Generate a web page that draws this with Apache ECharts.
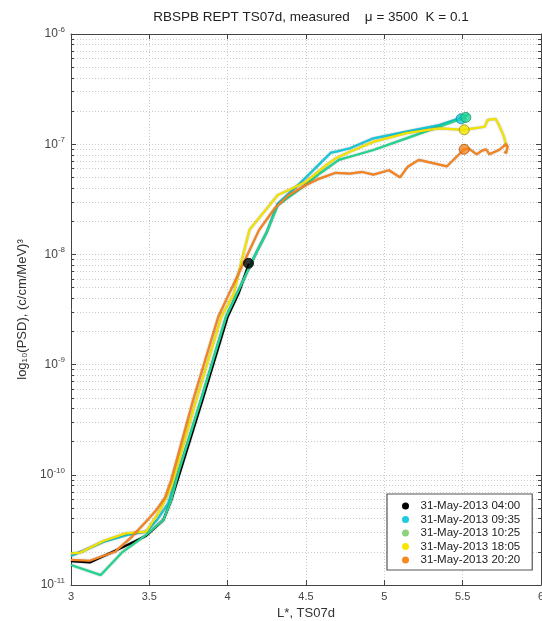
<!DOCTYPE html>
<html>
<head>
<meta charset="utf-8">
<script src="https://cdn.jsdelivr.net/npm/echarts@6/dist/echarts.min.js"></script>
<style>html,body{margin:0;padding:0;background:#fff;}#c{width:542px;height:621px;}</style>
</head>
<body>
<div id="c"></div>
<script>
// ---- data ----
var seriesNames = ['31-May-2013 04:00','31-May-2013 09:35','31-May-2013 10:25','31-May-2013 18:05','31-May-2013 20:20'];

var L_0400   = [3.00,3.12,3.33,3.48,3.59,3.64,3.70,3.84,4.00,4.07,4.135];
var PSD_0400 = [1.65e-11,1.6e-11,2.2e-11,2.8e-11,3.9e-11,5.9e-11,1.1e-10,4.8e-10,2.72e-9,4.43e-9,8.2e-9];

var L_0935   = [3.00,3.21,3.36,3.48,3.55,3.62,3.67,3.83,3.99,4.06,4.13,4.18,4.25,4.32,4.46,4.59,4.66,4.70,4.78,4.93,5.14,5.35,5.48,5.54];
var PSD_0935 = [1.83e-11,2.47e-11,2.85e-11,3.05e-11,3.9e-11,5.5e-11,9e-11,4.8e-10,2.72e-9,4.43e-9,7.2e-9,1.02e-8,1.6e-8,2.9e-8,4.4e-8,6.7e-8,8.4e-8,8.6e-8,9.2e-8,1.13e-7,1.3e-7,1.49e-7,1.72e-7,1.87e-7];

var L_1025   = [3.00,3.19,3.33,3.48,3.59,3.64,3.69,3.83,3.99,4.06,4.13,4.18,4.25,4.32,4.48,4.59,4.71,4.78,4.93,5.14,5.35,5.47,5.51];
var PSD_1025 = [1.52e-11,1.23e-11,2.0e-11,2.85e-11,3.9e-11,5.9e-11,1.1e-10,4.8e-10,2.72e-9,4.43e-9,7.2e-9,1.02e-8,1.6e-8,2.8e-8,4.1e-8,5.45e-8,7.2e-8,7.7e-8,8.85e-8,1.13e-7,1.44e-7,1.66e-7,1.74e-7];

var L_1805   = [3.00,3.06,3.21,3.35,3.48,3.57,3.64,3.80,3.96,4.04,4.09,4.14,4.32,4.39,4.50,4.63,4.69,4.78,4.93,5.14,5.35,5.51,5.64,5.66,5.71,5.73,5.74,5.76,5.78];
var PSD_1805 = [1.94e-11,1.97e-11,2.52e-11,2.94e-11,3.05e-11,4.8e-11,7.8e-11,4.8e-10,2.72e-9,4.43e-9,8.9e-9,1.68e-8,3.46e-8,3.84e-8,4.57e-8,6.5e-8,7.45e-8,8.55e-8,1.05e-7,1.26e-7,1.39e-7,1.35e-7,1.44e-7,1.66e-7,1.7e-7,1.51e-7,1.52e-7,1.21e-7,9.5e-8];

var L_2020   = [3.00,3.12,3.28,3.39,3.49,3.55,3.60,3.64,3.78,3.94,4.01,4.08,4.13,4.20,4.30,4.39,4.50,4.59,4.69,4.78,4.86,4.93,4.99,5.03,5.10,5.15,5.22,5.40,5.51,5.54,5.59,5.62,5.65,5.67,5.735,5.777,5.787,5.777,5.766];
var PSD_2020 = [1.69e-11,1.66e-11,2.0e-11,2.75e-11,3.9e-11,4.9e-11,6.2e-11,9e-11,4.8e-10,2.72e-9,4.43e-9,7.2e-9,1.02e-8,1.66e-8,2.62e-8,3.46e-8,4.27e-8,4.9e-8,5.5e-8,5.4e-8,5.6e-8,5.3e-8,5.6e-8,5.8e-8,5.0e-8,6.25e-8,7.2e-8,6.3e-8,9.0e-8,9.1e-8,8.1e-8,8.7e-8,9.0e-8,8.1e-8,8.9e-8,1.0e-7,9.5e-8,8.3e-8,8.6e-8];

var markerL   = [4.133, 5.49, 5.52, 5.51, 5.51];
var markerPSD = [8.3e-9, 1.7e-7, 1.75e-7, 1.35e-7, 9.0e-8];

var xTicks = [3, 3.5, 4, 4.5, 5, 5.5, 6];
var yMin = 1e-11, yMax = 1e-6;

// ---- styles ----
var lineColors   = ['#000000','#17c9d8','#22d690','#f2e400','#f5831f'];
var legendColors = ['#000000','#1ccbe0','#8dd27c','#f7e600','#f7891e'];
var markerEdge   = ['#000000','#0d8f99','#14946a','#9c9300','#a8560e'];

var allL = [L_0400, L_0935, L_1025, L_1805, L_2020];
var allP = [PSD_0400, PSD_0935, PSD_1025, PSD_1805, PSD_2020];

function pairs(a, b){ return a.map(function(v,i){ return [v, b[i]]; }); }

var series = [];
for (var i = 0; i < 5; i++) {
  series.push({
    name: seriesNames[i], type: 'line', data: pairs(allL[i], allP[i]),
    symbol: 'none', smooth: false, z: 2 + i,
    lineStyle: { color: lineColors[i], width: 2.2, shadowColor: 'rgba(0,0,0,0.35)', shadowBlur: 1.5 },
    itemStyle: { color: lineColors[i] }
  });
}
for (var j = 0; j < 5; j++) {
  series.push({
    name: seriesNames[j], type: 'scatter', data: [[markerL[j], markerPSD[j]]],
    symbol: 'circle', symbolSize: 10, z: 10 + j,
    itemStyle: { color: lineColors[j], borderColor: markerEdge[j], borderWidth: 1 }
  });
}

var gridLine = { show: true, lineStyle: { color: '#c9c9c9', type: [1, 2], width: 1 } };

var chart = echarts.init(document.getElementById('c'), null, { renderer: 'canvas' });
chart.setOption({
  animation: false,
  backgroundColor: '#ffffff',
  textStyle: { fontFamily: 'Liberation Sans' },
  title: {
    text: 'RBSPB REPT TS07d, measured    \u03bc = 3500  K = 0.1',
    left: 306, top: 5, textAlign: 'center',
    textStyle: { fontSize: 13.5, fontWeight: 'normal', color: '#222', fontFamily: 'Liberation Sans' }
  },
  grid: { left: 71, right: 1, top: 34, bottom: 36, containLabel: false, outerBoundsMode: 'none' },
  legend: {
    orient: 'vertical', left: 387, top: 494,
    padding: [6, 12, 4, 15],
    itemGap: 1.5, itemWidth: 20, itemHeight: 7, icon: 'circle',
    backgroundColor: '#fff', borderColor: '#555', borderWidth: 1.2,
    textStyle: { fontSize: 11.5, color: '#222', fontFamily: 'Liberation Sans' },
    data: seriesNames.map(function(n, k){ return { name: n, itemStyle: { color: legendColors[k], borderWidth: 0 } }; })
  },
  xAxis: [{
    type: 'value', min: xTicks[0], max: xTicks[xTicks.length - 1], interval: 0.5,
    name: 'L*, TS07d', nameLocation: 'middle', nameGap: 22,
    nameTextStyle: { fontSize: 13, color: '#333' },
    axisLine: { show: true, lineStyle: { color: '#444', width: 1 } },
    axisTick: { show: true, inside: true, length: 5, lineStyle: { color: '#444' } },
    axisLabel: { fontSize: 11, color: '#444', margin: 6 },
    splitLine: gridLine
  }, {
    type: 'value', position: 'top', min: 3, max: 6, interval: 0.5,
    axisLine: { show: true, lineStyle: { color: '#444', width: 1 } },
    axisTick: { show: true, inside: true, length: 5, lineStyle: { color: '#444' } },
    axisLabel: { show: false }, splitLine: { show: false }
  }],
  yAxis: [{
    type: 'log', logBase: 10, min: yMin, max: yMax,
    name: 'log\u2081\u2080(PSD), (c/cm/MeV)\u00b3', nameLocation: 'middle', nameGap: 42,
    nameTextStyle: { fontSize: 13, color: '#333' },
    axisLine: { show: true, lineStyle: { color: '#444', width: 1 } },
    axisTick: { show: true, inside: true, length: 5, lineStyle: { color: '#444' } },
    minorTick: { show: true, splitNumber: 9, length: 3, lineStyle: { color: '#444' } },
    minorSplitLine: gridLine,
    splitLine: gridLine,
    axisLabel: {
      margin: 6, color: '#444',
      formatter: function (v) { var e = Math.round(Math.log10(v)); return '{b|10}{e|' + e + '}'; },
      rich: { b: { fontSize: 12, color: '#444' }, e: { fontSize: 8, color: '#444', padding: [0, 0, 9, 0] } }
    }
  }, {
    type: 'log', logBase: 10, min: yMin, max: yMax, position: 'right',
    axisLine: { show: true, lineStyle: { color: '#444', width: 1 } },
    axisTick: { show: true, inside: true, length: 5, lineStyle: { color: '#444' } },
    minorTick: { show: true, splitNumber: 9, length: 3, lineStyle: { color: '#444' } },
    axisLabel: { show: false }, splitLine: { show: false }
  }],
  series: series
});
</script>
</body>
</html>
